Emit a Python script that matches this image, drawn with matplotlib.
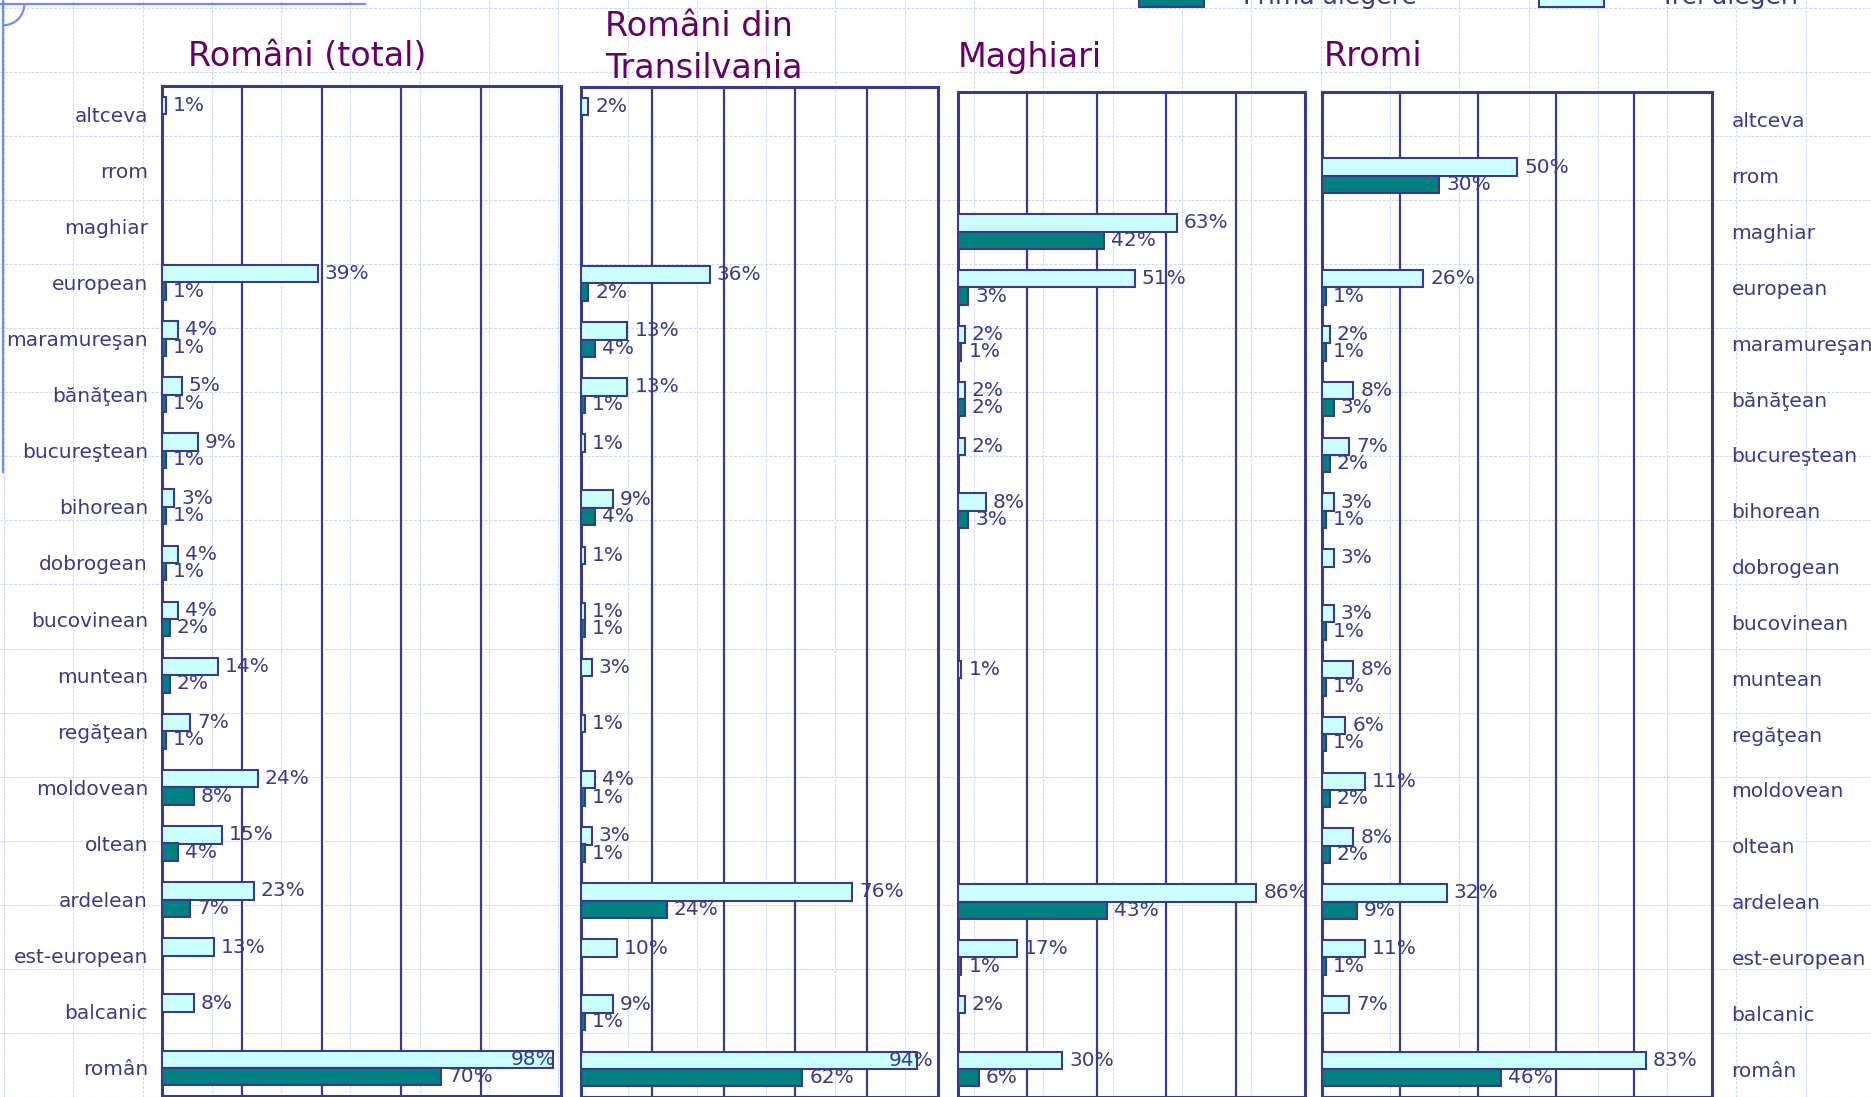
import matplotlib.pyplot as plt
from matplotlib.lines import Line2D
from matplotlib.patches import Rectangle, Arc

plt.rcParams['font.family'] = ['DejaVu Sans']

W, H = 1871, 1097

categories = ['altceva', 'rrom', 'maghiar', 'european', 'maramureşan', 'bănăţean',
              'bucureştean', 'bihorean', 'dobrogean', 'bucovinean', 'muntean',
              'regăţean', 'moldovean', 'oltean', 'ardelean', 'est-european',
              'balcanic', 'român']

# None = no answer shown for that category
total_trei = [1, None, None, 39, 4, 5, 9, 3, 4, 4, 14, 7, 24, 15, 23, 13, 8, 98]
total_prima = [None, None, None, 1, 1, 1, 1, 1, 1, 2, 2, 1, 8, 4, 7, None, None, 70]
transilv_trei = [2, None, None, 36, 13, 13, 1, 9, 1, 1, 3, 1, 4, 3, 76, 10, 9, 94]
transilv_prima = [None, None, None, 2, 4, 1, None, 4, None, 1, None, None, 1, 1, 24, None, 1, 62]
maghiari_trei = [None, None, 63, 51, 2, 2, 2, 8, None, None, 1, None, None, None, 86, 17, 2, 30]
maghiari_prima = [None, None, 42, 3, 1, 2, None, 3, None, None, None, None, None, None, 43, 1, None, 6]
rromi_trei = [None, 50, None, 26, 2, 8, 7, 3, 3, 3, 8, 6, 11, 8, 32, 11, 7, 83]
rromi_prima = [None, 30, None, 1, 1, 3, 2, 1, None, 1, 1, 1, 2, 2, 9, 1, None, 46]

titles = ['Români (total)', 'Români din\nTransilvania', 'Maghiari', 'Rromi']
legend_labels = ['Prima alegere', 'Trei alegeri']

TEAL = '#008080'
CYAN = '#CCFFFF'
EDGE = '#3A3A8C'
TXT = '#3A3A8C'
PURPLE = '#660066'
GRID = '#CAD8F7'
DECO = '#6F8DF0'
FS = 14.5


def rect(x1, y1, x2, y2):
    # pixel box (top-left origin) -> figure fraction
    return [x1 / W, 1 - y2 / H, (x2 - x1) / W, (y2 - y1) / H]


fig = plt.figure(figsize=(W / 100, H / 100), dpi=100)
fig.patch.set_facecolor('white')

# slide background grid
for k in range(18):
    y = 1 - (7.5 + 64.1 * k) / H
    fig.add_artist(Line2D([0, 1], [y, y], transform=fig.transFigure, color=GRID,
                          lw=0.8, ls=(0, (2.5, 1.5)), zorder=-5))
for k in range(28):
    x = (3.9 + 69.3 * k) / W
    fig.add_artist(Line2D([x, x], [0, 1], transform=fig.transFigure, color=GRID,
                          lw=0.8, ls=(0, (2.5, 1.5)), zorder=-5))

# template decoration top-left
fig.add_artist(Line2D([0, 365 / W], [1 - 4.3 / H] * 2, transform=fig.transFigure,
                      color=DECO, lw=1.6, zorder=-4))
fig.add_artist(Line2D([3.3 / W] * 2, [1, 1 - 472 / H], transform=fig.transFigure,
                      color=DECO, lw=1.6, zorder=-4))
fig.add_artist(Arc((3.3 / W, 1 - 4.3 / H), 42 / W, 42 / H, theta1=270, theta2=360,
                   transform=fig.transFigure, color=DECO, lw=1.6, zorder=-4))

boxes = [rect(162, 86, 561, 1096), rect(581, 87, 938, 1097),
         rect(958, 92, 1305, 1097), rect(1322, 92, 1712, 1097)]
series = [(total_trei, total_prima), (transilv_trei, transilv_prima),
          (maghiari_trei, maghiari_prima), (rromi_trei, rromi_prima)]


def put_label(ax, y, v):
    if v >= 90:
        ax.annotate(f'{v}%', (100, y), xytext=(-5, 0), textcoords='offset pixels',
                    ha='right', va='center', fontsize=FS, color=TXT, zorder=5)
    else:
        ax.annotate(f'{v}%', (v, y), xytext=(7, 0), textcoords='offset pixels',
                    ha='left', va='center', fontsize=FS, color=TXT, zorder=5)


axes = []
for box, (trei, prima) in zip(boxes, series):
    ax = fig.add_axes(box)
    ax.patch.set_visible(False)
    ax.set_xlim(0, 100)
    ax.set_ylim(len(categories) - 0.5, -0.5)
    for g in (20, 40, 60, 80):
        ax.axvline(g, color=EDGE, lw=1.6, zorder=1)
    for i, v in enumerate(trei):
        if v is None:
            continue
        ax.barh(i - 0.155, v, height=0.31, color=CYAN, edgecolor=EDGE, lw=1.5, zorder=3)
        put_label(ax, i - 0.155, v)
    for i, v in enumerate(prima):
        if v is None:
            continue
        ax.barh(i + 0.155, v, height=0.31, color=TEAL, edgecolor=EDGE, lw=1.5, zorder=3)
        put_label(ax, i + 0.155, v)
    for s in ax.spines.values():
        s.set_color(EDGE)
        s.set_linewidth(2.2)
    ax.set_xticks([])
    ax.set_yticks([])
    axes.append(ax)

axes[0].set_yticks(range(len(categories)))
axes[0].set_yticklabels(categories, fontsize=FS, color=TXT)
axes[0].tick_params(axis='y', length=0, pad=10)

axes[-1].yaxis.tick_right()
axes[-1].set_yticks(range(len(categories)))
axes[-1].set_yticklabels(categories, fontsize=FS, color=TXT)
axes[-1].tick_params(axis='y', length=0, pad=14)

# panel titles
fig.text(188 / W, 1 - 57 / H, titles[0], ha='left', va='center', fontsize=24, color=PURPLE)
t1, t2 = titles[1].split('\n')
fig.text(605 / W, 1 - 27 / H, t1, ha='left', va='center', fontsize=24, color=PURPLE)
fig.text(605 / W, 1 - 69 / H, t2, ha='left', va='center', fontsize=24, color=PURPLE)
fig.text(958 / W, 1 - 57 / H, titles[2], ha='left', va='center', fontsize=24, color=PURPLE)
fig.text(1324 / W, 1 - 57 / H, titles[3], ha='left', va='center', fontsize=24, color=PURPLE)

# legend, cut off by the top edge as in the slide
fig.add_artist(Rectangle((1139 / W, 1 - 7 / H), 65 / W, 30 / H, transform=fig.transFigure,
                         fc=TEAL, ec=EDGE, lw=1.5))
fig.add_artist(Rectangle((1539 / W, 1 - 7 / H), 65 / W, 30 / H, transform=fig.transFigure,
                         fc=CYAN, ec=EDGE, lw=1.5))
fig.text(1243 / W, 1 - 4 / H, legend_labels[0], ha='left', va='baseline', fontsize=18, color=TXT)
fig.text(1660 / W, 1 - 4 / H, legend_labels[1], ha='left', va='baseline', fontsize=18, color=TXT)

fig.savefig('out.png', dpi=100)
